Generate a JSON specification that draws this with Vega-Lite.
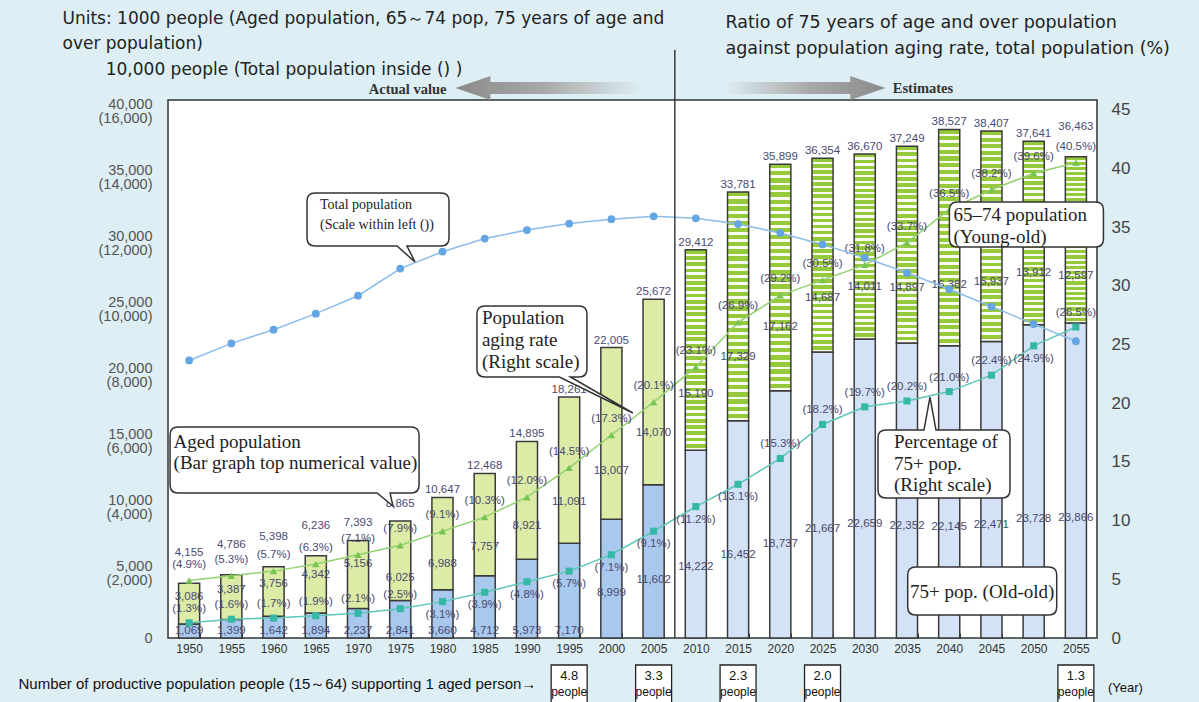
{
"$schema":"https://vega.github.io/schema/vega-lite/v6.json",
"width":929,"height":538,
"autosize":{"type":"none"},
"padding":{"left":168,"top":100,"right":102,"bottom":64},
"background":"#DDEEF4",
"config":{
  "view":{"fill":"#FFFFFF","stroke":"#333333","strokeWidth":1.5},
  "locale":{"number":{"decimal":".","thousands":",","grouping":[3],"currency":["(","%)"]}},
  "axis":{"grid":false,"domain":false},
  "text":{"font":"Liberation Sans Narrow, Liberation Sans, sans-serif","fontSize":11.5,"color":"#4A4A70"}
},
"datasets":{
  "pop":[
    {"year":1950,"aged":4155,"young":3086,"old":1069,"rate":4.9,"pct75":1.3,"total":8411},
    {"year":1955,"aged":4786,"young":3387,"old":1399,"rate":5.3,"pct75":1.6,"total":8928},
    {"year":1960,"aged":5398,"young":3756,"old":1642,"rate":5.7,"pct75":1.7,"total":9342},
    {"year":1965,"aged":6236,"young":4342,"old":1894,"rate":6.3,"pct75":1.9,"total":9828},
    {"year":1970,"aged":7393,"young":5156,"old":2237,"rate":7.1,"pct75":2.1,"total":10372},
    {"year":1975,"aged":8865,"young":6025,"old":2841,"rate":7.9,"pct75":2.5,"total":11194},
    {"year":1980,"aged":10647,"young":6988,"old":3660,"rate":9.1,"pct75":3.1,"total":11706},
    {"year":1985,"aged":12468,"young":7757,"old":4712,"rate":10.3,"pct75":3.9,"total":12105},
    {"year":1990,"aged":14895,"young":8921,"old":5973,"rate":12.0,"pct75":4.8,"total":12361},
    {"year":1995,"aged":18261,"young":11091,"old":7170,"rate":14.5,"pct75":5.7,"total":12557},
    {"year":2000,"aged":22005,"young":13007,"old":8999,"rate":17.3,"pct75":7.1,"total":12693},
    {"year":2005,"aged":25672,"young":14070,"old":11602,"rate":20.1,"pct75":9.1,"total":12777},
    {"year":2010,"aged":29412,"young":15190,"old":14222,"rate":23.1,"pct75":11.2,"total":12718},
    {"year":2015,"aged":33781,"young":17329,"old":16452,"rate":26.9,"pct75":13.1,"total":12543},
    {"year":2020,"aged":35899,"young":17162,"old":18737,"rate":29.2,"pct75":15.3,"total":12273},
    {"year":2025,"aged":36354,"young":14687,"old":21667,"rate":30.5,"pct75":18.2,"total":11927},
    {"year":2030,"aged":36670,"young":14011,"old":22659,"rate":31.8,"pct75":19.7,"total":11522},
    {"year":2035,"aged":37249,"young":14897,"old":22352,"rate":33.7,"pct75":20.2,"total":11068},
    {"year":2040,"aged":38527,"young":16382,"old":22145,"rate":36.5,"pct75":21.0,"total":10570},
    {"year":2045,"aged":38407,"young":15937,"old":22471,"rate":38.2,"pct75":22.4,"total":10044},
    {"year":2050,"aged":37641,"young":13912,"old":23728,"rate":39.6,"pct75":24.9,"total":9515},
    {"year":2055,"aged":36463,"young":12597,"old":23866,"rate":40.5,"pct75":26.5,"total":8993}
  ],
  "support":[
    {"year":1995,"ratio":4.8},{"year":2005,"ratio":3.3},{"year":2015,"ratio":2.3},{"year":2025,"ratio":2.0},{"year":2055,"ratio":1.3}
  ]
},
"data":{"name":"pop"},
"encoding":{
  "x":{"field":"year","type":"ordinal","scale":{"paddingInner":0.5,"paddingOuter":0.25},
    "axis":{"title":"Number of productive population people (15～64) supporting 1 aged person→","titleX":-150,"titleY":45,"titleAlign":"left","titleBaseline":"middle","titleAngle":0,"titleFont":"Liberation Sans","titleFontSize":15,"titleFontWeight":"normal","titleColor":"#111111","labelAngle":0,"labelFont":"Liberation Sans Narrow, Liberation Sans, sans-serif","labelFontSize":12,"labelColor":"#333333","labelPadding":10,"ticks":true,"tickBand":"extent","tickSize":-5,"tickColor":"#333333","tickWidth":1}}
},
"resolve":{"scale":{"y":"independent"}},
"layer":[
  {"layer":[
    {"mark":{"type":"bar","stroke":"#3A3A3A","strokeWidth":1.5},
     "encoding":{
       "y":{"field":"old","type":"quantitative","scale":{"domain":[0,40758],"nice":false},
         "axis":{"orient":"left","title":["Units: 1000 people (Aged population, 65～74 pop, 75  years of age and","over  population)","\u200b\u00a0\u00a0\u00a0\u00a0\u00a0\u00a0\u00a0\u00a010,000 people  (Total population inside () )"],"titleX":-106,"titleY":-90,"titleAngle":0,"titleAlign":"left","titleBaseline":"top","titleFont":"DejaVu Sans","titleFontSize":17,"titleFontWeight":"normal","titleColor":"#222222","titleLineHeight":25.5,
           "values":[0,5000,10000,15000,20000,25000,30000,35000,40000],
           "labelExpr":"datum.value == 0 ? '0' : [format(datum.value, ','), '(' + format(datum.value*0.4, ',') + ')']",
           "labelFont":"Liberation Sans","labelFontSize":14.5,"labelLineHeight":14,"labelColor":"#555555","labelBaseline":"middle",
           "labelOffset":{"condition":{"test":"datum.value == 0","value":0},"value":-6},
           "ticks":false,"labelPadding":16}},
       "color":{"condition":{"test":"datum.year >= 2010","value":"#D3E2F6"},"value":"#A8C8EE"}}},
    {"transform":[{"filter":"datum.year < 2010"}],
     "mark":{"type":"bar","fill":"#DCEBA6","stroke":"#3A3A3A","strokeWidth":1.5},
     "encoding":{"y":{"field":"old","type":"quantitative","scale":{"domain":[0,40758],"nice":false}},"y2":{"field":"aged"}}},
    {"transform":[{"filter":"datum.year >= 2010"}],
     "mark":{"type":"bar","stroke":"#3A3A3A","strokeWidth":1.5,
       "fill":{"gradient":"linear","x1":0,"y1":0,"x2":0,"y2":1,"stops":[
        {"offset":0,"color":"#97C93D"},{"offset":0.01875,"color":"#97C93D"},{"offset":0.01875,"color":"#F8FBEF"},{"offset":0.03125,"color":"#F8FBEF"},
        {"offset":0.03125,"color":"#97C93D"},{"offset":0.05,"color":"#97C93D"},{"offset":0.05,"color":"#F8FBEF"},{"offset":0.0625,"color":"#F8FBEF"},
        {"offset":0.0625,"color":"#97C93D"},{"offset":0.08125,"color":"#97C93D"},{"offset":0.08125,"color":"#F8FBEF"},{"offset":0.09375,"color":"#F8FBEF"},
        {"offset":0.09375,"color":"#97C93D"},{"offset":0.1125,"color":"#97C93D"},{"offset":0.1125,"color":"#F8FBEF"},{"offset":0.125,"color":"#F8FBEF"},
        {"offset":0.125,"color":"#97C93D"},{"offset":0.14375,"color":"#97C93D"},{"offset":0.14375,"color":"#F8FBEF"},{"offset":0.15625,"color":"#F8FBEF"},
        {"offset":0.15625,"color":"#97C93D"},{"offset":0.175,"color":"#97C93D"},{"offset":0.175,"color":"#F8FBEF"},{"offset":0.1875,"color":"#F8FBEF"},
        {"offset":0.1875,"color":"#97C93D"},{"offset":0.20625,"color":"#97C93D"},{"offset":0.20625,"color":"#F8FBEF"},{"offset":0.21875,"color":"#F8FBEF"},
        {"offset":0.21875,"color":"#97C93D"},{"offset":0.2375,"color":"#97C93D"},{"offset":0.2375,"color":"#F8FBEF"},{"offset":0.25,"color":"#F8FBEF"},
        {"offset":0.25,"color":"#97C93D"},{"offset":0.26875,"color":"#97C93D"},{"offset":0.26875,"color":"#F8FBEF"},{"offset":0.28125,"color":"#F8FBEF"},
        {"offset":0.28125,"color":"#97C93D"},{"offset":0.3,"color":"#97C93D"},{"offset":0.3,"color":"#F8FBEF"},{"offset":0.3125,"color":"#F8FBEF"},
        {"offset":0.3125,"color":"#97C93D"},{"offset":0.33125,"color":"#97C93D"},{"offset":0.33125,"color":"#F8FBEF"},{"offset":0.34375,"color":"#F8FBEF"},
        {"offset":0.34375,"color":"#97C93D"},{"offset":0.3625,"color":"#97C93D"},{"offset":0.3625,"color":"#F8FBEF"},{"offset":0.375,"color":"#F8FBEF"},
        {"offset":0.375,"color":"#97C93D"},{"offset":0.39375,"color":"#97C93D"},{"offset":0.39375,"color":"#F8FBEF"},{"offset":0.40625,"color":"#F8FBEF"},
        {"offset":0.40625,"color":"#97C93D"},{"offset":0.425,"color":"#97C93D"},{"offset":0.425,"color":"#F8FBEF"},{"offset":0.4375,"color":"#F8FBEF"},
        {"offset":0.4375,"color":"#97C93D"},{"offset":0.45625,"color":"#97C93D"},{"offset":0.45625,"color":"#F8FBEF"},{"offset":0.46875,"color":"#F8FBEF"},
        {"offset":0.46875,"color":"#97C93D"},{"offset":0.4875,"color":"#97C93D"},{"offset":0.4875,"color":"#F8FBEF"},{"offset":0.5,"color":"#F8FBEF"},
        {"offset":0.5,"color":"#97C93D"},{"offset":0.51875,"color":"#97C93D"},{"offset":0.51875,"color":"#F8FBEF"},{"offset":0.53125,"color":"#F8FBEF"},
        {"offset":0.53125,"color":"#97C93D"},{"offset":0.55,"color":"#97C93D"},{"offset":0.55,"color":"#F8FBEF"},{"offset":0.5625,"color":"#F8FBEF"},
        {"offset":0.5625,"color":"#97C93D"},{"offset":0.58125,"color":"#97C93D"},{"offset":0.58125,"color":"#F8FBEF"},{"offset":0.59375,"color":"#F8FBEF"},
        {"offset":0.59375,"color":"#97C93D"},{"offset":0.6125,"color":"#97C93D"},{"offset":0.6125,"color":"#F8FBEF"},{"offset":0.625,"color":"#F8FBEF"},
        {"offset":0.625,"color":"#97C93D"},{"offset":0.64375,"color":"#97C93D"},{"offset":0.64375,"color":"#F8FBEF"},{"offset":0.65625,"color":"#F8FBEF"},
        {"offset":0.65625,"color":"#97C93D"},{"offset":0.675,"color":"#97C93D"},{"offset":0.675,"color":"#F8FBEF"},{"offset":0.6875,"color":"#F8FBEF"},
        {"offset":0.6875,"color":"#97C93D"},{"offset":0.70625,"color":"#97C93D"},{"offset":0.70625,"color":"#F8FBEF"},{"offset":0.71875,"color":"#F8FBEF"},
        {"offset":0.71875,"color":"#97C93D"},{"offset":0.7375,"color":"#97C93D"},{"offset":0.7375,"color":"#F8FBEF"},{"offset":0.75,"color":"#F8FBEF"},
        {"offset":0.75,"color":"#97C93D"},{"offset":0.76875,"color":"#97C93D"},{"offset":0.76875,"color":"#F8FBEF"},{"offset":0.78125,"color":"#F8FBEF"},
        {"offset":0.78125,"color":"#97C93D"},{"offset":0.8,"color":"#97C93D"},{"offset":0.8,"color":"#F8FBEF"},{"offset":0.8125,"color":"#F8FBEF"},
        {"offset":0.8125,"color":"#97C93D"},{"offset":0.83125,"color":"#97C93D"},{"offset":0.83125,"color":"#F8FBEF"},{"offset":0.84375,"color":"#F8FBEF"},
        {"offset":0.84375,"color":"#97C93D"},{"offset":0.8625,"color":"#97C93D"},{"offset":0.8625,"color":"#F8FBEF"},{"offset":0.875,"color":"#F8FBEF"},
        {"offset":0.875,"color":"#97C93D"},{"offset":0.89375,"color":"#97C93D"},{"offset":0.89375,"color":"#F8FBEF"},{"offset":0.90625,"color":"#F8FBEF"},
        {"offset":0.90625,"color":"#97C93D"},{"offset":0.925,"color":"#97C93D"},{"offset":0.925,"color":"#F8FBEF"},{"offset":0.9375,"color":"#F8FBEF"},
        {"offset":0.9375,"color":"#97C93D"},{"offset":0.95625,"color":"#97C93D"},{"offset":0.95625,"color":"#F8FBEF"},{"offset":0.96875,"color":"#F8FBEF"},
        {"offset":0.96875,"color":"#97C93D"},{"offset":0.9875,"color":"#97C93D"},{"offset":0.9875,"color":"#F8FBEF"},{"offset":1,"color":"#F8FBEF"}
       ]}},
     "encoding":{"y":{"field":"old","type":"quantitative","scale":{"domain":[0,40758],"nice":false}},"y2":{"field":"aged"}}},
    {"transform":[{"filter":"datum.year <= 1965 || datum.year == 2055"}],
     "mark":{"type":"text","baseline":"bottom","dy":-25},
     "encoding":{"y":{"field":"aged","type":"quantitative","scale":{"domain":[0,40758],"nice":false}},"text":{"field":"aged","type":"quantitative","format":","}}},
    {"transform":[{"filter":"datum.year == 1970 || datum.year == 1975"}],
     "mark":{"type":"text","baseline":"bottom","dy":-12},
     "encoding":{"y":{"field":"aged","type":"quantitative","scale":{"domain":[0,40758],"nice":false}},"text":{"field":"aged","type":"quantitative","format":","}}},
    {"transform":[{"filter":"datum.year > 1975 && datum.year < 2055"}],
     "mark":{"type":"text","baseline":"bottom","dy":-2},
     "encoding":{"y":{"field":"aged","type":"quantitative","scale":{"domain":[0,40758],"nice":false}},"text":{"field":"aged","type":"quantitative","format":","}}},
    {"transform":[{"filter":"datum.year <= 1995"}],
     "mark":{"type":"text","baseline":"middle"},
     "encoding":{"y":{"datum":500,"type":"quantitative","scale":{"domain":[0,40758],"nice":false}},"text":{"field":"old","type":"quantitative","format":","}}},
    {"transform":[{"filter":"datum.year > 1995"}],
     "mark":{"type":"text","baseline":"middle"},
     "encoding":{"y":{"field":"old","type":"quantitative","stack":"zero","bandPosition":0.38,"scale":{"domain":[0,40758],"nice":false}},"text":{"field":"old","type":"quantitative","format":","}}},
    {"transform":[{"filter":"datum.year <= 1970"},{"fold":["old","young"],"as":["part","num"]}],
     "mark":{"type":"text","baseline":"middle"},
     "encoding":{"y":{"field":"num","type":"quantitative","stack":"zero","bandPosition":0.66,"scale":{"domain":[0,40758],"nice":false}},
       "detail":{"field":"part"},"order":{"field":"part","sort":"ascending"},
       "text":{"condition":{"test":"datum.part == 'old'","value":""},"field":"num","type":"quantitative","format":","}}},
    {"transform":[{"filter":"datum.year > 1970"},{"fold":["old","young"],"as":["part","num"]}],
     "mark":{"type":"text","baseline":"middle"},
     "encoding":{"y":{"field":"num","type":"quantitative","stack":"zero","bandPosition":0.28,"scale":{"domain":[0,40758],"nice":false}},
       "detail":{"field":"part"},"order":{"field":"part","sort":"ascending"},
       "text":{"condition":{"test":"datum.part == 'old'","value":""},"field":"num","type":"quantitative","format":","}}}
  ]},
  {"layer":[
    {"mark":{"type":"line","color":"#93D26F","strokeWidth":1.5},
     "encoding":{"y":{"field":"rate","type":"quantitative","scale":{"domain":[0,45.85],"nice":false},
       "axis":{"orient":"right","title":["Ratio of 75 years of age and over population","against population aging rate, total population (%)"],"titleX":-372,"titleY":-87,"titleAngle":0,"titleAlign":"left","titleBaseline":"top","titleFont":"DejaVu Sans","titleFontSize":17.5,"titleFontWeight":"normal","titleColor":"#222222","titleLineHeight":26,
         "values":[0,5,10,15,20,25,30,35,40,45],"labelFont":"Liberation Sans","labelFontSize":17,"labelColor":"#444444","ticks":false,"labelPadding":14}}}},
    {"mark":{"type":"point","shape":"triangle-up","filled":true,"size":55,"color":"#78C453","opacity":1},
     "encoding":{"y":{"field":"rate","type":"quantitative","scale":{"domain":[0,45.85],"nice":false}}}},
    {"mark":{"type":"text","baseline":"middle","dy":-16},
     "encoding":{"y":{"field":"rate","type":"quantitative","scale":{"domain":[0,45.85],"nice":false}},"text":{"field":"rate","type":"quantitative","format":"$.1f"}}},
    {"mark":{"type":"line","color":"#5CC6B7","strokeWidth":1.5},
     "encoding":{"y":{"field":"pct75","type":"quantitative","scale":{"domain":[0,45.85],"nice":false}}}},
    {"mark":{"type":"point","shape":"square","filled":true,"size":50,"color":"#36B8A6","opacity":1},
     "encoding":{"y":{"field":"pct75","type":"quantitative","scale":{"domain":[0,45.85],"nice":false}}}},
    {"transform":[{"filter":"(datum.year >= 1980 && datum.year <= 2015) || datum.year == 2050"}],
     "mark":{"type":"text","baseline":"middle","dy":13},
     "encoding":{"y":{"field":"pct75","type":"quantitative","scale":{"domain":[0,45.85],"nice":false}},"text":{"field":"pct75","type":"quantitative","format":"$.1f"}}},
    {"transform":[{"filter":"!((datum.year >= 1980 && datum.year <= 2015) || datum.year == 2050)"}],
     "mark":{"type":"text","baseline":"middle","dy":-14},
     "encoding":{"y":{"field":"pct75","type":"quantitative","scale":{"domain":[0,45.85],"nice":false}},"text":{"field":"pct75","type":"quantitative","format":"$.1f"}}}
  ]},
  {"layer":[
    {"mark":{"type":"line","color":"#8CBCEA","strokeWidth":1.5},
     "encoding":{"y":{"field":"total","type":"quantitative","scale":{"domain":[0,16303],"nice":false},"axis":null}}},
    {"mark":{"type":"point","shape":"circle","filled":true,"size":60,"color":"#64A5E4","opacity":1},
     "encoding":{"y":{"field":"total","type":"quantitative","scale":{"domain":[0,16303],"nice":false},"axis":null}}}
  ]},
  {"data":{"values":[{}]},
   "layer":[
    {"mark":{"type":"rule","color":"#222222","strokeWidth":1.3,"xOffset":-21},
     "encoding":{"x":{"datum":2010,"type":"ordinal"},"y":{"datum":0,"type":"quantitative","scale":{"domain":[0,40758],"nice":false},"axis":null},"y2":{"datum":44545}}},
    {"mark":{"type":"point","shape":"M-1,0L-0.622,-0.13L-0.622,-0.065L1,-0.065L1,0.065L-0.622,0.065L-0.622,0.13Z","size":34225,"filled":true,"opacity":1,"strokeWidth":0,"xOffset":21,
       "fill":{"gradient":"linear","x1":0,"y1":0,"x2":1,"y2":0,"stops":[{"offset":0,"color":"#8A8A8A"},{"offset":0.5,"color":"#ABABAB"},{"offset":1,"color":"#DDEEF4"}]}},
     "encoding":{"x":{"datum":1990,"type":"ordinal"},"y":{"datum":41667,"type":"quantitative","scale":{"domain":[0,40758],"nice":false},"axis":null}}},
    {"mark":{"type":"point","shape":"M1,0L0.5625,-0.15L0.5625,-0.075L-1,-0.075L-1,0.075L0.5625,0.075L0.5625,0.15Z","size":25600,"filled":true,"opacity":1,"strokeWidth":0,"xOffset":25,
       "fill":{"gradient":"linear","x1":0,"y1":0,"x2":1,"y2":0,"stops":[{"offset":0,"color":"#DDEEF4"},{"offset":0.5,"color":"#ABABAB"},{"offset":1,"color":"#8A8A8A"}]}},
     "encoding":{"x":{"datum":2020,"type":"ordinal"},"y":{"datum":41667,"type":"quantitative","scale":{"domain":[0,40758],"nice":false},"axis":null}}},
    {"mark":{"type":"text","align":"right","baseline":"middle","dx":4,"font":"Liberation Serif","fontSize":14.5,"fontWeight":"bold","color":"#333333"},
     "encoding":{"x":{"datum":1980,"type":"ordinal"},"y":{"datum":41515,"type":"quantitative","scale":{"domain":[0,40758],"nice":false},"axis":null},"text":{"value":"Actual value"}}},
    {"mark":{"type":"text","align":"left","baseline":"middle","dx":28,"font":"Liberation Serif","fontSize":14.5,"fontWeight":"bold","color":"#333333"},
     "encoding":{"x":{"datum":2030,"type":"ordinal"},"y":{"datum":41591,"type":"quantitative","scale":{"domain":[0,40758],"nice":false},"axis":null},"text":{"value":"Estimates"}}},

    {"mark":{"type":"point","shape":"M-0.887,-0.373H0.887Q1,-0.373 1,-0.26V0.26Q1,0.373 0.887,0.373H0.408L0.521,0.599L0.268,0.373H-0.887Q-1,0.373 -1,0.26V-0.26Q-1,-0.373 -0.887,-0.373Z","size":20164,"filled":true,"fill":"#FFFFFF","stroke":"#333333","strokeWidth":1.5,"opacity":1,"xOffset":20},
     "encoding":{"x":{"datum":1970,"type":"ordinal"},"y":{"datum":31705,"type":"quantitative","scale":{"domain":[0,40758],"nice":false},"axis":null}}},
    {"mark":{"type":"text","align":"left","baseline":"middle","dx":-38,"font":"Liberation Serif","fontSize":14,"lineHeight":20,"color":"#222222"},
     "encoding":{"x":{"datum":1970,"type":"ordinal"},"y":{"datum":32803,"type":"quantitative","scale":{"domain":[0,40758],"nice":false},"axis":null},"text":{"value":["Total population","(Scale within left ())"]}}},

    {"mark":{"type":"point","shape":"M-0.855,-0.6455H0.855Q1,-0.6455 1,-0.5V0.5Q1,0.6455 0.855,0.6455H0.7L1.836,1.3L0.5,0.6455H-0.855Q-1,0.6455 -1,0.5V-0.5Q-1,-0.6455 -0.855,-0.6455Z","size":12100,"filled":true,"fill":"#FFFFFF","stroke":"#333333","strokeWidth":1.5,"opacity":1,"xOffset":5},
     "encoding":{"x":{"datum":1990,"type":"ordinal"},"y":{"datum":22462,"type":"quantitative","scale":{"domain":[0,40758],"nice":false},"axis":null}}},
    {"mark":{"type":"text","align":"left","baseline":"middle","dx":-45,"font":"Liberation Serif","fontSize":19,"lineHeight":22,"color":"#222222"},
     "encoding":{"x":{"datum":1990,"type":"ordinal"},"y":{"datum":24242,"type":"quantitative","scale":{"domain":[0,40758],"nice":false},"axis":null},"text":{"value":["Population","aging rate","(Right scale)"]}}},

    {"mark":{"type":"point","shape":"M-0.936,-0.265H0.936Q1,-0.265 1,-0.201V0.201Q1,0.265 0.936,0.265H0.767L0.79,0.37L0.663,0.265H-0.936Q-1,0.265 -1,0.201V-0.201Q-1,-0.265 -0.936,-0.265Z","size":62001,"filled":true,"fill":"#FFFFFF","stroke":"#333333","strokeWidth":1.5,"opacity":1,"xOffset":21},
     "encoding":{"x":{"datum":1960,"type":"ordinal"},"y":{"datum":13485,"type":"quantitative","scale":{"domain":[0,40758],"nice":false},"axis":null}}},
    {"mark":{"type":"text","align":"left","baseline":"middle","dx":-100,"font":"Liberation Serif","fontSize":19,"lineHeight":21,"color":"#222222"},
     "encoding":{"x":{"datum":1960,"type":"ordinal"},"y":{"datum":14848,"type":"quantitative","scale":{"domain":[0,40758],"nice":false},"axis":null},"text":{"value":["Aged population","(Bar graph top numerical value)"]}}},

    {"mark":{"type":"point","shape":"M-0.896,-0.292H0.896Q1,-0.292 1,-0.188V0.188Q1,0.292 0.896,0.292H-0.896Q-1,0.292 -1,0.188V-0.188Q-1,-0.292 -0.896,-0.292Z","size":23716,"filled":true,"fill":"#FFFFFF","stroke":"#333333","strokeWidth":1.5,"opacity":1,"xOffset":35},
     "encoding":{"x":{"datum":2045,"type":"ordinal"},"y":{"datum":31326,"type":"quantitative","scale":{"domain":[0,40758],"nice":false},"axis":null}}},
    {"mark":{"type":"text","align":"left","baseline":"middle","dx":-38,"font":"Liberation Serif","fontSize":19,"lineHeight":22,"color":"#222222"},
     "encoding":{"x":{"datum":2045,"type":"ordinal"},"y":{"datum":32045,"type":"quantitative","scale":{"domain":[0,40758],"nice":false},"axis":null},"text":{"value":["65–74 population","(Young-old)"]}}},

    {"mark":{"type":"point","shape":"M-0.879,-0.515H-0.303L-0.212,-1.015L-0.121,-0.515H0.879Q1,-0.515 1,-0.394V0.394Q1,0.515 0.879,0.515H-0.879Q-1,0.515 -1,0.394V-0.394Q-1,-0.515 -0.879,-0.515Z","size":17424,"filled":true,"fill":"#FFFFFF","stroke":"#333333","strokeWidth":1.5,"opacity":1,"xOffset":37},
     "encoding":{"x":{"datum":2035,"type":"ordinal"},"y":{"datum":13182,"type":"quantitative","scale":{"domain":[0,40758],"nice":false},"axis":null}}},
    {"mark":{"type":"text","align":"left","baseline":"middle","dx":-13,"font":"Liberation Serif","fontSize":19,"lineHeight":21.5,"color":"#222222"},
     "encoding":{"x":{"datum":2035,"type":"ordinal"},"y":{"datum":14848,"type":"quantitative","scale":{"domain":[0,40758],"nice":false},"axis":null},"text":{"value":["Percentage of","75+ pop.","(Right scale)"]}}},

    {"mark":{"type":"point","shape":"M-0.893,-0.322H0.893Q1,-0.322 1,-0.215V0.215Q1,0.322 0.893,0.322H-0.893Q-1,0.322 -1,0.215V-0.215Q-1,-0.322 -0.893,-0.322Z","size":22201,"filled":true,"fill":"#FFFFFF","stroke":"#333333","strokeWidth":1.5,"opacity":1,"xOffset":33},
     "encoding":{"x":{"datum":2040,"type":"ordinal"},"y":{"datum":3561,"type":"quantitative","scale":{"domain":[0,40758],"nice":false},"axis":null}}},
    {"mark":{"type":"text","align":"center","baseline":"middle","dx":33,"font":"Liberation Serif","fontSize":19,"color":"#222222"},
     "encoding":{"x":{"datum":2040,"type":"ordinal"},"y":{"datum":3485,"type":"quantitative","scale":{"domain":[0,40758],"nice":false},"axis":null},"text":{"value":"75+ pop. (Old-old)"}}},

    {"data":{"name":"support"},
     "mark":{"type":"point","shape":"M-0.947,-1H0.947V1H-0.947Z","size":1444,"filled":true,"fill":"#FFFFFF","stroke":"#222222","strokeWidth":1.3,"opacity":1},
     "encoding":{"x":{"field":"year","type":"ordinal"},"y":{"datum":-3485,"type":"quantitative","scale":{"domain":[0,40758],"nice":false},"axis":null}}},
    {"data":{"name":"support"},
     "mark":{"type":"text","align":"center","baseline":"middle","dy":-8,"font":"Liberation Sans","fontSize":13,"color":"#111111"},
     "encoding":{"x":{"field":"year","type":"ordinal"},"y":{"datum":-3485,"type":"quantitative","scale":{"domain":[0,40758],"nice":false},"axis":null},"text":{"field":"ratio","type":"quantitative","format":".1f"}}},
    {"data":{"name":"support"},
     "mark":{"type":"text","align":"center","baseline":"middle","dy":8,"font":"Liberation Sans","fontSize":12,"color":"#111111"},
     "encoding":{"x":{"field":"year","type":"ordinal"},"y":{"datum":-3485,"type":"quantitative","scale":{"domain":[0,40758],"nice":false},"axis":null},"text":{"value":"people"}}},
    {"mark":{"type":"text","align":"left","baseline":"middle","dx":32,"font":"Liberation Sans","fontSize":13,"color":"#111111"},
     "encoding":{"x":{"datum":2055,"type":"ordinal"},"y":{"datum":-3788,"type":"quantitative","scale":{"domain":[0,40758],"nice":false},"axis":null},"text":{"value":"(Year)"}}}
  ]}
]
}
